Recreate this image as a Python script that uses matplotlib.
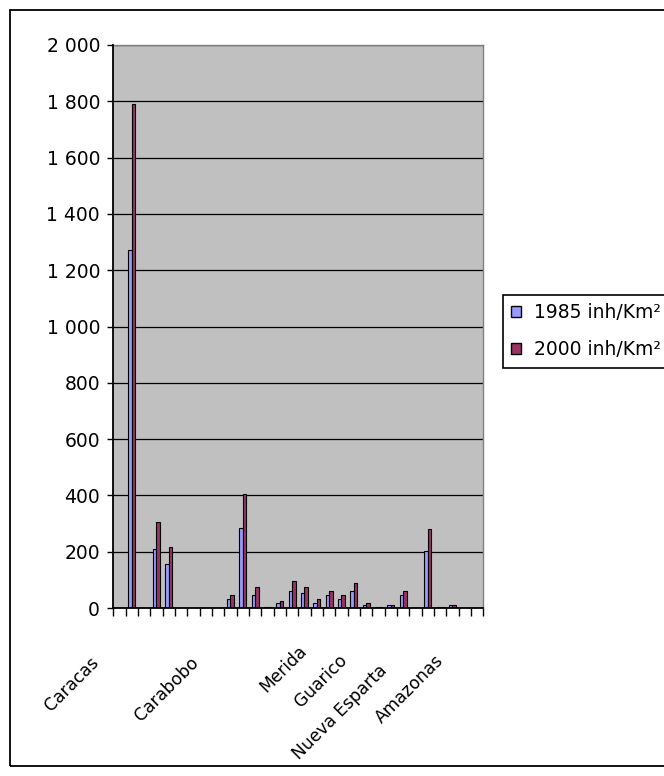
import numpy as np
import matplotlib
matplotlib.use("Agg")
import matplotlib.pyplot as plt
from matplotlib.patches import Rectangle, Patch

plt.rcParams['font.family'] = ['DejaVu Sans']

# ---- data ----
n_categories = 30
v1985 = [0, 1272, 0, 211, 155, 0, 0, 0, 0, 33, 283, 47, 5, 19, 62, 55, 19, 47, 33, 62,
         12, 5, 12, 47, 0, 204, 5, 12, 0, 0]
v2000 = [0, 1790, 0, 304, 218, 0, 0, 0, 0, 47, 404, 76, 5, 26, 97, 76, 33, 62, 47, 90,
         19, 5, 12, 62, 0, 282, 5, 12, 0, 0]
region_labels = ['Caracas', 'Carabobo', 'Merida', 'Guarico', 'Nueva Esparta', 'Amazonas']
series_names = ['1985 inh/Km²', '2000 inh/Km²']

# label anchor positions (category units) and vertical offsets (pixels)
label_x = [-1.9, 6.2, 15.0, 18.25, 21.5, 26.1]
label_dy = [52, 52, 40, 50, 60, 50]

W, H = 664, 776
fig = plt.figure(figsize=(W / 100, H / 100), dpi=100)
fig.patch.set_facecolor('white')
ax = fig.add_axes([113.3 / W, 1 - 608 / H, 370 / W, 563 / H])
ax.set_facecolor('#C0C0C0')

x = np.arange(n_categories)
w = 0.286
c1, c2 = '#9999FF', '#993366'
ax.bar(x - w / 2, v1985, w, color=c1, edgecolor='black', linewidth=0.8, zorder=3)
ax.bar(x + w / 2, v2000, w, color=c2, edgecolor='black', linewidth=0.8, zorder=3)

ax.set_xlim(-0.5, n_categories - 0.5)
ax.set_ylim(0, 2000)
ax.set_yticks(np.arange(0, 2001, 200))
ax.set_yticklabels([f"{v:,}".replace(",", " ") for v in range(0, 2001, 200)], fontsize=13.5)
ax.set_xticks(np.arange(-0.5, n_categories, 1))
ax.set_xticklabels([])
ax.tick_params(axis='x', direction='out', length=5.5, width=1.0, color='black')
ax.tick_params(axis='y', direction='out', length=4.5, width=1.0, color='black', pad=5)
ax.yaxis.grid(True, color='black', linewidth=0.9)
ax.set_axisbelow(True)

for s in ['left', 'bottom']:
    ax.spines[s].set_color('black')
    ax.spines[s].set_linewidth(1.3)
    ax.spines[s].set_zorder(5)
for s in ['top', 'right']:
    ax.spines[s].set_color('#808080')
    ax.spines[s].set_linewidth(1.0)

for lab, lx, dy in zip(region_labels, label_x, label_dy):
    ax.annotate(lab, xy=(lx, 0), xycoords=('data', 'axes fraction'),
                xytext=(0, -dy), textcoords='offset pixels',
                rotation=45, rotation_mode='anchor', ha='right', va='center',
                fontsize=12.3, annotation_clip=False)

# chart-area border
fig.patches.append(Rectangle((10 / W, 10 / H), 700 / W, 756 / H, transform=fig.transFigure,
                             fill=False, edgecolor='black', linewidth=1.3))

handles = [Patch(facecolor=c1, edgecolor='black', linewidth=1.0),
           Patch(facecolor=c2, edgecolor='black', linewidth=1.0)]
leg = fig.legend(handles, series_names, loc='upper left',
                 bbox_to_anchor=(503 / W, 1 - 295 / H), bbox_transform=fig.transFigure,
                 frameon=True, fancybox=False, edgecolor='black', framealpha=1,
                 handlelength=0.5, handleheight=0.5, handletextpad=0.7,
                 labelspacing=0.95, borderpad=0.45, fontsize=13.5, borderaxespad=0)
leg.get_frame().set_linewidth(1.2)

fig.savefig('out.png', dpi=100)
